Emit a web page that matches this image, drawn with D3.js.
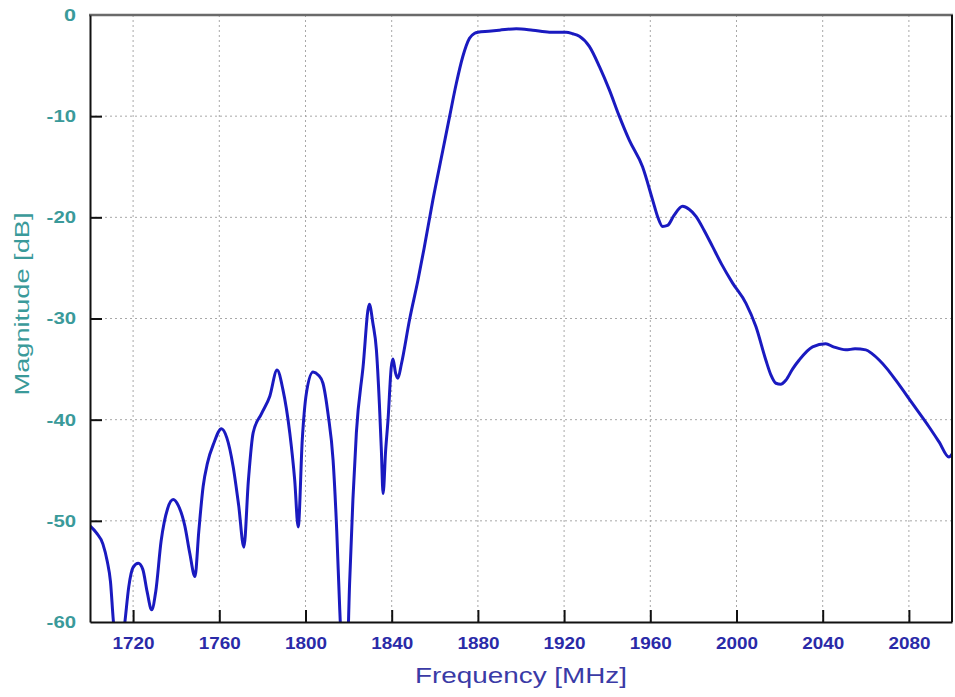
<!DOCTYPE html>
<html><head><meta charset="utf-8">
<script src="https://cdn.jsdelivr.net/npm/d3@7"></script>
<style>html,body{margin:0;padding:0;background:#fff;}svg{display:block;}</style>
</head><body>
<svg id="chart" width="955" height="697"></svg>
<script>
const freq = [1700,1703,1706,1708,1709.5,1710.8,1712.5,1714.5,1716.2,1718,1720,1722.4,1724.5,1726.5,1728.6,1730.5,1733,1736,1738.6,1741,1744,1746.3,1748.7,1750.5,1752.5,1754.5,1757.5,1761,1763.5,1766.4,1769,1771.4,1773.5,1775.7,1779.6,1783.4,1786.8,1789.5,1792.7,1795,1796.6,1798.5,1800.4,1803.5,1806,1808.1,1810.5,1812.8,1814.5,1815.9,1817.5,1819,1820.5,1822,1823.6,1826.7,1829.6,1831.3,1832.9,1834.3,1835.2,1836,1837.2,1838.3,1839.8,1840.6,1841.8,1842.9,1844.5,1848.3,1852.2,1855,1859.1,1863.8,1866.9,1870,1873,1876.1,1878.5,1880,1885,1890,1897.8,1905.5,1913.2,1920.9,1924,1927.1,1931.7,1936.4,1941,1945.6,1950.3,1956.4,1961.1,1963.5,1965.7,1968,1971,1975,1978,1981.2,1985,1988.9,1993,1998.2,2004.4,2009,2013.6,2016,2018.3,2020.5,2022.9,2026,2029.1,2035.3,2041.4,2045,2050.7,2055,2060,2063,2066.2,2070,2073.9,2081.6,2089.3,2094,2098.6,2100];
const magnitude = [-50.5,-51.2,-52.3,-54.0,-56,-59.8,-63,-63,-60,-56.5,-54.6,-54.2,-54.8,-57,-58.8,-57,-52,-48.8,-47.9,-48.5,-50.5,-53.2,-55.5,-51,-46.6,-44.3,-42.3,-40.9,-41.8,-44.6,-48.5,-52.6,-46,-41.3,-39.4,-37.7,-35.1,-37,-41.3,-46,-50.6,-42,-37.4,-35.3,-35.6,-36.4,-39.5,-44,-51,-58.8,-65,-65,-56,-47.9,-41.3,-34.8,-28.6,-30.5,-33.1,-38.5,-43,-47.3,-43,-40,-34.8,-34,-35.4,-35.9,-34.5,-30.1,-26.2,-23.1,-18.3,-13.3,-10,-6.75,-4.1,-2.3,-1.8,-1.7,-1.6,-1.5,-1.35,-1.5,-1.7,-1.7,-1.85,-2.1,-3.1,-5.1,-7.4,-10,-12.4,-15,-18.3,-20,-20.9,-20.8,-19.8,-18.9,-19.2,-19.9,-21.3,-22.9,-24.6,-26.5,-28.5,-30.8,-34.1,-35.6,-36.4,-36.5,-36.1,-35,-34.1,-32.8,-32.5,-32.8,-33.1,-33.0,-33.1,-33.5,-34.1,-35,-36.1,-38.4,-40.7,-42.2,-43.7,-43.4];
const xTicks = [1720,1760,1800,1840,1880,1920,1960,2000,2040,2080];
const yTicks = [0,-10,-20,-30,-40,-50,-60];
const xTitle = "Frequency [MHz]";
const yTitle = "Magnitude [dB]";

const svg = d3.select("#chart");
const L = 90, R = 952, T = 15, B = 622;
const x = d3.scaleLinear().domain([1700, 2100]).range([L, R]);
const y = d3.scaleLinear().domain([-60, 0]).range([B, T]);

svg.append("defs").append("clipPath").attr("id","clip")
  .append("rect").attr("x",L).attr("y",T).attr("width",R-L).attr("height",B-T);

// grid
const grid = svg.append("g").attr("stroke","#a8a8a8").attr("stroke-width",1).attr("stroke-dasharray","2,3");
grid.selectAll(".vg").data(xTicks).join("line")
  .attr("x1",d=>x(d)).attr("x2",d=>x(d)).attr("y1",T).attr("y2",B);
grid.selectAll(".hg").data(yTicks.filter(d=>d!==0 && d!==-60)).join("line")
  .attr("x1",L).attr("x2",R).attr("y1",d=>y(d)).attr("y2",d=>y(d));

// curve
const pts = freq.map((f,i)=>[f, magnitude[i]]);
const line = d3.line().x(d=>x(d[0])).y(d=>y(d[1])).curve(d3.curveMonotoneX);
svg.append("path").datum(pts).attr("clip-path","url(#clip)")
  .attr("fill","none").attr("stroke","#1a1ac0").attr("stroke-width",3)
  .attr("stroke-linejoin","round").attr("d",line);

// frame
svg.append("line").attr("x1",L-1).attr("x2",R+1).attr("y1",T).attr("y2",T).attr("stroke","#6a6a6a").attr("stroke-width",2.5);
svg.append("line").attr("x1",R).attr("x2",R).attr("y1",T).attr("y2",B).attr("stroke","#111").attr("stroke-width",2);

// axes
const fmt = d => String(d);
const xAxis = d3.axisBottom(x).tickValues(xTicks).tickSizeInner(-12).tickSizeOuter(0).tickPadding(18).tickFormat(fmt);
const gx = svg.append("g").attr("transform",`translate(0,${B})`).call(xAxis);
gx.select(".domain").attr("stroke","#111").attr("stroke-width",2);
gx.selectAll(".tick line").attr("stroke","#111").attr("stroke-width",2);
gx.selectAll(".tick text").attr("fill","#2a2aa8").attr("font-family","'Liberation Sans', Arial, sans-serif")
  .attr("font-weight","bold").attr("font-size",17).attr("dy","0.55em")
  .attr("textLength",42).attr("lengthAdjust","spacingAndGlyphs");

const yAxis = d3.axisLeft(y).tickValues(yTicks).tickSizeInner(-12).tickSizeOuter(0).tickPadding(14).tickFormat(fmt);
const gy = svg.append("g").attr("transform",`translate(${L},0)`).call(yAxis);
gy.select(".domain").attr("stroke","#111").attr("stroke-width",2);
gy.selectAll(".tick line").attr("stroke","#111").attr("stroke-width",2);
gy.selectAll(".tick text").attr("fill","#3a9a9a").attr("font-family","'Liberation Sans', Arial, sans-serif")
  .attr("font-weight","bold").attr("font-size",17)
  .each(function(d){ const s=String(d); d3.select(this).attr("textLength", s.length===1?12:(s.length*9.8)).attr("lengthAdjust","spacingAndGlyphs"); });
gy.selectAll(".tick").filter(d=>d===0).select("line").remove();
gy.selectAll(".tick").filter(d=>d===-60).select("line").remove();

// titles
svg.append("text").attr("x",(415+627)/2).attr("y",683).attr("text-anchor","middle")
  .attr("fill","#3a3aa6").attr("font-family","'Liberation Sans', Arial, sans-serif").attr("font-size",22)
  .attr("textLength",212).attr("lengthAdjust","spacingAndGlyphs").text(xTitle);
svg.append("text").attr("transform","translate(28.5,304) rotate(-90)").attr("text-anchor","middle")
  .attr("fill","#3a9a9a").attr("font-family","'Liberation Sans', Arial, sans-serif").attr("font-size",21)
  .attr("textLength",183).attr("lengthAdjust","spacingAndGlyphs").text(yTitle);
</script>
</body></html>
